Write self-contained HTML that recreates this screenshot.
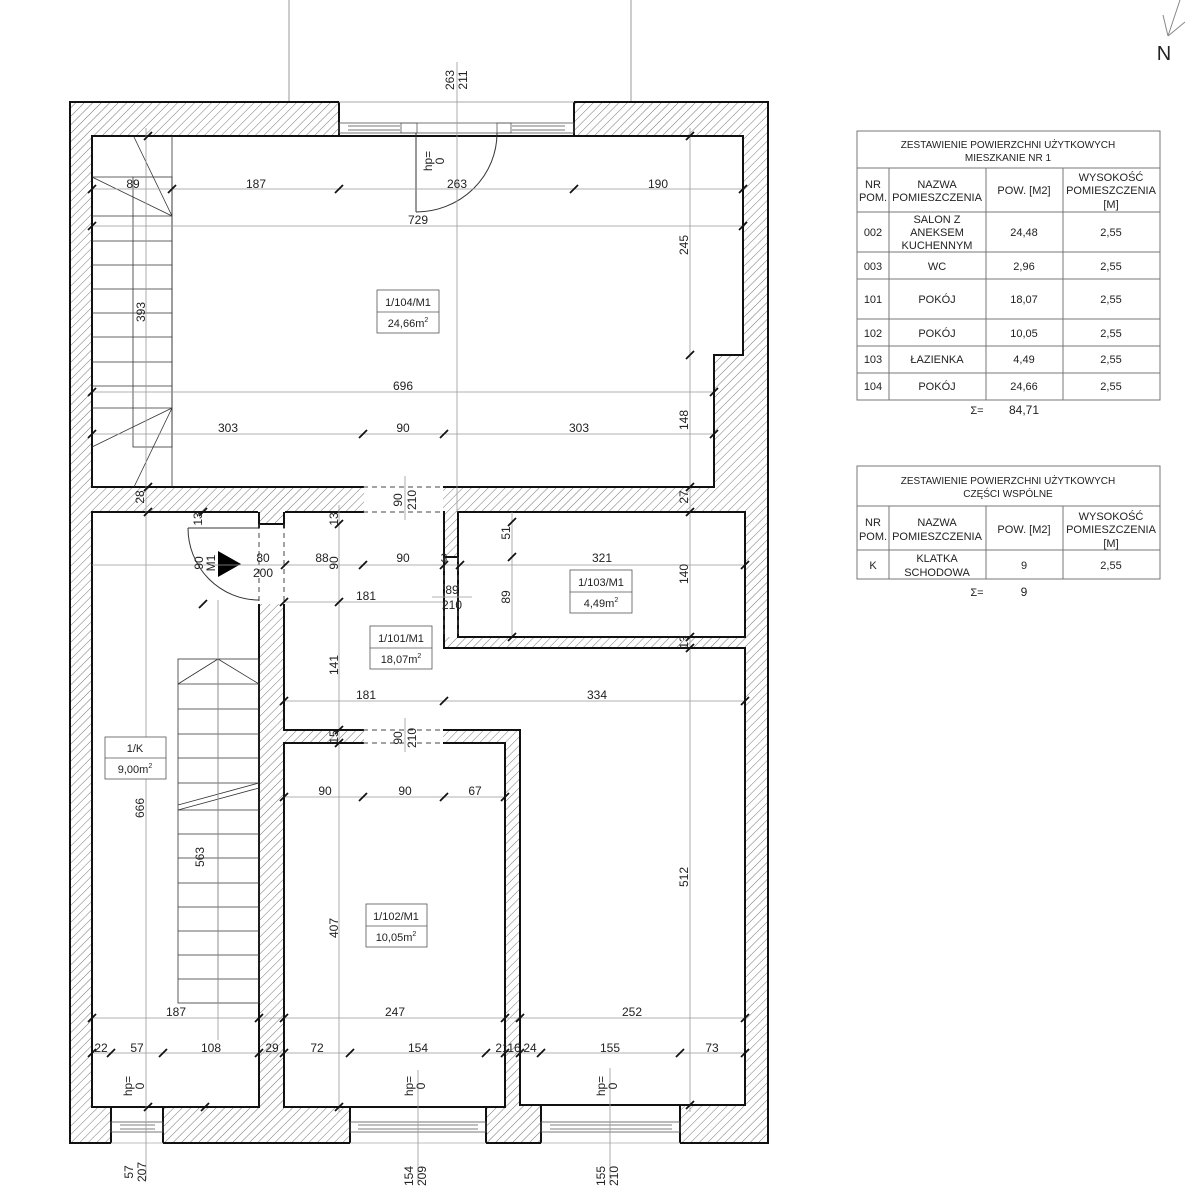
<!DOCTYPE html>
<html><head><meta charset="utf-8"><style>
html,body{margin:0;padding:0;background:#fff;}
svg{display:block;}
text{font-family:"Liberation Sans",sans-serif;fill:#222;}
</style></head><body>
<svg width="1192" height="1200" viewBox="0 0 1192 1200" xmlns="http://www.w3.org/2000/svg">
<defs>
<pattern id="h" width="6" height="6" patternUnits="userSpaceOnUse" patternTransform="rotate(45)">
<rect width="6" height="6" fill="#fff"/><line x1="0" y1="0" x2="0" y2="6" stroke="#666" stroke-width="0.9"/>
</pattern>
<path id="t" d="M-4,4 L4,-4" stroke="#111" stroke-width="1.8"/>
</defs>
<line x1="289" y1="0" x2="289" y2="102" stroke="#999" stroke-width="1"/>
<line x1="631" y1="0" x2="631" y2="102" stroke="#999" stroke-width="1"/>
<rect x="70" y="102" width="698" height="1041" fill="url(#h)" stroke="#111" stroke-width="2"/>
<rect x="339" y="101" width="235" height="36" fill="#fff"/>
<line x1="339" y1="102" x2="339" y2="136" stroke="#111" stroke-width="2"/>
<line x1="574" y1="102" x2="574" y2="136" stroke="#111" stroke-width="2"/>
<line x1="339" y1="102" x2="574" y2="102" stroke="#aaa"/>
<rect x="339" y="123" width="235" height="10" fill="none" stroke="#555" stroke-width="0.8"/>
<line x1="348" y1="126" x2="400" y2="126" stroke="#777"/><line x1="348" y1="130" x2="400" y2="130" stroke="#777"/>
<line x1="512" y1="126" x2="565" y2="126" stroke="#777"/><line x1="512" y1="130" x2="565" y2="130" stroke="#777"/>
<rect x="401" y="123" width="16" height="10" fill="none" stroke="#555" stroke-width="0.8"/>
<rect x="497" y="123" width="14" height="10" fill="none" stroke="#555" stroke-width="0.8"/>
<g fill="#fff">
<rect x="111" y="1106" width="52" height="38"/>
<rect x="350" y="1106" width="136" height="38"/>
<rect x="541" y="1104" width="139" height="40"/>
</g>
<g stroke="#111" stroke-width="2">
<line x1="111" y1="1107" x2="111" y2="1143"/><line x1="163" y1="1107" x2="163" y2="1143"/>
<line x1="350" y1="1107" x2="350" y2="1143"/><line x1="486" y1="1107" x2="486" y2="1143"/>
<line x1="541" y1="1105" x2="541" y2="1143"/><line x1="680" y1="1105" x2="680" y2="1143"/>
</g>
<g fill="none" stroke="#555" stroke-width="0.8">
<line x1="111" y1="1143" x2="163" y2="1143" stroke="#aaa"/>
<line x1="350" y1="1143" x2="486" y2="1143" stroke="#aaa"/>
<line x1="541" y1="1143" x2="680" y2="1143" stroke="#aaa"/>
<rect x="111" y="1122" width="52" height="10"/><line x1="120" y1="1125" x2="155" y2="1125"/><line x1="120" y1="1129" x2="155" y2="1129"/>
<rect x="350" y="1122" width="136" height="10"/><line x1="358" y1="1125" x2="478" y2="1125"/><line x1="358" y1="1129" x2="478" y2="1129"/>
<rect x="541" y="1122" width="139" height="10"/><line x1="550" y1="1125" x2="672" y2="1125"/><line x1="550" y1="1129" x2="672" y2="1129"/>
</g>
<g fill="#fff" stroke="#111" stroke-width="2">
<polygon points="92,136 743,136 743,355 714,355 714,487 92,487"/>
<polygon points="92,512 259,512 259,1107 92,1107"/>
<polygon points="284,512 444,512 444,648 745,648 745,1105 520,1105 520,730 284,730"/>
<polygon points="458,512 745,512 745,637 458,637"/>
<polygon points="284,743 505,743 505,1107 284,1107"/>
</g>
<rect x="258" y="511" width="27" height="13" fill="url(#h)"/>
<polyline points="259,512 259,524 284,524 284,512" fill="none" stroke="#111" stroke-width="2"/>
<g fill="#fff">
<rect x="364" y="486" width="79" height="27"/>
<rect x="258" y="525" width="27" height="79"/>
<rect x="445" y="557" width="12" height="80"/>
<rect x="364" y="729" width="79" height="15"/>
</g>
<g stroke="#111" stroke-width="2">
<line x1="259" y1="524" x2="259" y2="528"/><line x1="284" y1="524" x2="284" y2="528"/>
<line x1="444" y1="557" x2="458" y2="557"/>
</g>
<g stroke="#444" stroke-width="1" stroke-dasharray="5,4">
<line x1="363" y1="487" x2="444" y2="487"/><line x1="363" y1="512" x2="444" y2="512"/>
<line x1="444" y1="557" x2="444" y2="637"/><line x1="458" y1="557" x2="458" y2="637"/>
<line x1="363" y1="730" x2="444" y2="730"/><line x1="363" y1="743" x2="444" y2="743"/>
<line x1="259" y1="524" x2="259" y2="604"/><line x1="284" y1="524" x2="284" y2="604"/>
</g>
<g fill="none" stroke="#333" stroke-width="1">
<line x1="416" y1="133" x2="416" y2="212"/>
<path d="M416,212 A81,79 0 0 0 497,133"/>
<line x1="188" y1="528" x2="259" y2="528"/>
<path d="M188,528 A71,72 0 0 0 259,600"/>
</g>
<polygon points="218,551 241,564 218,577" fill="#000"/>
<g fill="none" stroke="#333" stroke-width="0.8">
<line x1="172" y1="136" x2="172" y2="487"/>
<rect x="133" y="177" width="39" height="270"/>
<line x1="92" y1="177" x2="133" y2="177"/>
<line x1="92" y1="216" x2="172" y2="216"/><line x1="92" y1="241" x2="172" y2="241"/>
<line x1="92" y1="265" x2="172" y2="265"/><line x1="92" y1="289" x2="172" y2="289"/>
<line x1="92" y1="313" x2="172" y2="313"/><line x1="92" y1="337" x2="172" y2="337"/>
<line x1="92" y1="362" x2="172" y2="362"/><line x1="92" y1="386" x2="172" y2="386"/>
<line x1="92" y1="408" x2="172" y2="408"/>
<line x1="134" y1="137" x2="172" y2="216"/><line x1="92" y1="177" x2="172" y2="216"/>
<line x1="92" y1="447" x2="172" y2="408"/><line x1="134" y1="487" x2="172" y2="408"/>
</g>
<g fill="none" stroke="#333" stroke-width="0.8">
<rect x="178" y="659" width="81" height="344"/>
<line x1="218" y1="659" x2="218" y2="1003"/>
<line x1="178" y1="684" x2="259" y2="684"/><line x1="178" y1="709" x2="259" y2="709"/>
<line x1="178" y1="734" x2="259" y2="734"/><line x1="178" y1="758" x2="259" y2="758"/>
<line x1="178" y1="783" x2="259" y2="783"/><line x1="178" y1="810" x2="259" y2="810"/>
<line x1="178" y1="834" x2="259" y2="834"/><line x1="178" y1="858" x2="259" y2="858"/>
<line x1="178" y1="883" x2="259" y2="883"/><line x1="178" y1="907" x2="259" y2="907"/>
<line x1="178" y1="931" x2="259" y2="931"/><line x1="178" y1="955" x2="259" y2="955"/>
<line x1="178" y1="979" x2="259" y2="979"/>
<polyline points="178,684 218,659 259,684"/>
<line x1="178" y1="805" x2="259" y2="783"/><line x1="178" y1="810" x2="259" y2="788"/>
</g>
<g stroke="#999" stroke-width="0.8" fill="none">
<line x1="92" y1="189" x2="745" y2="189"/>
<line x1="92" y1="226" x2="745" y2="226"/>
<line x1="92" y1="392" x2="714" y2="392"/>
<line x1="92" y1="434" x2="714" y2="434"/>
<line x1="690" y1="128" x2="690" y2="1112"/>
<line x1="146" y1="128" x2="146" y2="1180"/>
<line x1="457" y1="62" x2="457" y2="512"/>
<line x1="405" y1="476" x2="405" y2="520"/>
<line x1="92" y1="565" x2="745" y2="565"/>
<line x1="284" y1="602" x2="444" y2="602"/>
<line x1="432" y1="597" x2="472" y2="597"/>
<line x1="339" y1="505" x2="339" y2="1112"/>
<line x1="512" y1="512" x2="512" y2="637"/>
<line x1="284" y1="701" x2="745" y2="701"/>
<line x1="405" y1="718" x2="405" y2="752"/>
<line x1="284" y1="797" x2="505" y2="797"/>
<line x1="92" y1="1018" x2="745" y2="1018"/>
<line x1="92" y1="1053" x2="745" y2="1053"/>
<line x1="418" y1="1070" x2="418" y2="1183"/>
<line x1="610" y1="1068" x2="610" y2="1183"/>
<line x1="218" y1="600" x2="218" y2="1040"/>
</g>
<g>
<use href="#t" x="92" y="189"/><use href="#t" x="172" y="189"/><use href="#t" x="339" y="189"/><use href="#t" x="574" y="189"/><use href="#t" x="743" y="189"/>
<use href="#t" x="92" y="226"/><use href="#t" x="743" y="226"/>
<use href="#t" x="92" y="392"/><use href="#t" x="714" y="392"/>
<use href="#t" x="92" y="434"/><use href="#t" x="363" y="434"/><use href="#t" x="444" y="434"/><use href="#t" x="714" y="434"/>
<use href="#t" x="148" y="136"/><use href="#t" x="690" y="136"/><use href="#t" x="690" y="355"/><use href="#t" x="690" y="487"/><use href="#t" x="148" y="487"/>
<use href="#t" x="148" y="512"/><use href="#t" x="690" y="512"/><use href="#t" x="203" y="512"/><use href="#t" x="339" y="524"/><use href="#t" x="203" y="604"/>
<use href="#t" x="285" y="565"/><use href="#t" x="363" y="565"/><use href="#t" x="444" y="565"/><use href="#t" x="460" y="565"/><use href="#t" x="745" y="565"/>
<use href="#t" x="284" y="602"/><use href="#t" x="339" y="602"/>
<use href="#t" x="512" y="522"/><use href="#t" x="512" y="557"/><use href="#t" x="512" y="637"/><use href="#t" x="690" y="637"/><use href="#t" x="690" y="648"/>
<use href="#t" x="284" y="701"/><use href="#t" x="444" y="701"/><use href="#t" x="745" y="701"/>
<use href="#t" x="339" y="730"/><use href="#t" x="339" y="743"/>
<use href="#t" x="284" y="797"/><use href="#t" x="363" y="797"/><use href="#t" x="444" y="797"/><use href="#t" x="505" y="797"/>
<use href="#t" x="92" y="1018"/><use href="#t" x="259" y="1018"/><use href="#t" x="284" y="1018"/><use href="#t" x="505" y="1018"/><use href="#t" x="520" y="1018"/><use href="#t" x="745" y="1018"/>
<use href="#t" x="92" y="1053"/><use href="#t" x="111" y="1053"/><use href="#t" x="163" y="1053"/><use href="#t" x="259" y="1053"/><use href="#t" x="284" y="1053"/><use href="#t" x="350" y="1053"/><use href="#t" x="486" y="1053"/><use href="#t" x="505" y="1053"/><use href="#t" x="520" y="1053"/><use href="#t" x="541" y="1053"/><use href="#t" x="680" y="1053"/><use href="#t" x="745" y="1053"/>
<use href="#t" x="148" y="1107"/><use href="#t" x="205" y="1107"/><use href="#t" x="339" y="1107"/><use href="#t" x="690" y="1105"/>
</g>
<g font-size="12" text-anchor="middle">
<text x="133" y="188">89</text><text x="256" y="188">187</text><text x="457" y="188">263</text><text x="658" y="188">190</text>
<text x="418" y="224">729</text>
<text x="403" y="390">696</text>
<text x="228" y="432">303</text><text x="403" y="432">90</text><text x="579" y="432">303</text>
<text x="263" y="562">80</text><text x="263" y="577">200</text>
<text x="322" y="562">88</text><text x="403" y="562">90</text><text x="444" y="562">3</text><text x="602" y="562">321</text>
<text x="366" y="600">181</text>
<text x="452" y="594">89</text><text x="452" y="609">210</text>
<text x="366" y="699">181</text><text x="597" y="699">334</text>
<text x="325" y="795">90</text><text x="405" y="795">90</text><text x="475" y="795">67</text>
<text x="176" y="1016">187</text><text x="395" y="1016">247</text><text x="632" y="1016">252</text>
<text x="101" y="1052">22</text><text x="137" y="1052">57</text><text x="211" y="1052">108</text><text x="272" y="1052">29</text><text x="317" y="1052">72</text><text x="418" y="1052">154</text><text x="502" y="1052">21</text><text x="514" y="1052">16</text><text x="530" y="1052">24</text><text x="610" y="1052">155</text><text x="712" y="1052">73</text>
<text x="1024" y="414">84,71</text>
<text x="1024" y="596">9</text>
</g>
<g font-size="12" text-anchor="middle">
<text transform="translate(145,312) rotate(-90)">393</text>
<text transform="translate(688,245) rotate(-90)">245</text>
<text transform="translate(688,420) rotate(-90)">148</text>
<text transform="translate(144,497) rotate(-90)">28</text>
<text transform="translate(688,497) rotate(-90)">27</text>
<text transform="translate(202,519) rotate(-90)">13</text>
<text transform="translate(338,519) rotate(-90)">13</text>
<text transform="translate(688,642) rotate(-90)">13</text>
<text transform="translate(402,500) rotate(-90)">90</text>
<text transform="translate(416,500) rotate(-90)">210</text>
<text transform="translate(402,738) rotate(-90)">90</text>
<text transform="translate(416,738) rotate(-90)">210</text>
<text transform="translate(338,737) rotate(-90)">15</text>
<text transform="translate(203,563) rotate(-90)">90</text>
<text transform="translate(215,563) rotate(-90)">M1</text>
<text transform="translate(338,563) rotate(-90)">90</text>
<text transform="translate(510,533) rotate(-90)">51</text>
<text transform="translate(510,597) rotate(-90)">89</text>
<text transform="translate(688,574) rotate(-90)">140</text>
<text transform="translate(338,665) rotate(-90)">141</text>
<text transform="translate(144,808) rotate(-90)">666</text>
<text transform="translate(204,857) rotate(-90)">563</text>
<text transform="translate(338,928) rotate(-90)">407</text>
<text transform="translate(688,877) rotate(-90)">512</text>
<text transform="translate(454,80) rotate(-90)">263</text>
<text transform="translate(467,80) rotate(-90)">211</text>
<text transform="translate(432,161) rotate(-90)">hp=</text>
<text transform="translate(444,161) rotate(-90)">0</text>
<text transform="translate(132,1086) rotate(-90)">hp=</text>
<text transform="translate(144,1086) rotate(-90)">0</text>
<text transform="translate(413,1086) rotate(-90)">hp=</text>
<text transform="translate(425,1086) rotate(-90)">0</text>
<text transform="translate(605,1086) rotate(-90)">hp=</text>
<text transform="translate(617,1086) rotate(-90)">0</text>
<text transform="translate(133,1172) rotate(-90)">57</text>
<text transform="translate(146,1172) rotate(-90)">207</text>
<text transform="translate(413,1176) rotate(-90)">154</text>
<text transform="translate(426,1176) rotate(-90)">209</text>
<text transform="translate(605,1176) rotate(-90)">155</text>
<text transform="translate(618,1176) rotate(-90)">210</text>
</g>
<g fill="#fff" stroke="#555" stroke-width="0.8">
<rect x="377" y="290" width="62" height="43"/><line x1="377" y1="312" x2="439" y2="312"/>
<rect x="370" y="626" width="62" height="43"/><line x1="370" y1="648" x2="432" y2="648"/>
<rect x="570" y="570" width="62" height="43"/><line x1="570" y1="592" x2="632" y2="592"/>
<rect x="366" y="904" width="61" height="43"/><line x1="366" y1="926" x2="427" y2="926"/>
<rect x="105" y="737" width="61" height="42"/><line x1="105" y1="758" x2="166" y2="758"/>
</g>
<g font-size="11" text-anchor="middle">
<text x="408" y="306">1/104/M1</text><text x="408" y="327">24,66m<tspan font-size="7" dy="-5">2</tspan></text>
<text x="401" y="642">1/101/M1</text><text x="401" y="663">18,07m<tspan font-size="7" dy="-5">2</tspan></text>
<text x="601" y="586">1/103/M1</text><text x="601" y="607">4,49m<tspan font-size="7" dy="-5">2</tspan></text>
<text x="396" y="920">1/102/M1</text><text x="396" y="941">10,05m<tspan font-size="7" dy="-5">2</tspan></text>
<text x="135" y="752">1/K</text><text x="135" y="773">9,00m<tspan font-size="7" dy="-5">2</tspan></text>
</g>
<g stroke="#888" stroke-width="1">
<line x1="1168" y1="36" x2="1180" y2="0"/><line x1="1168" y1="36" x2="1163" y2="15"/><line x1="1168" y1="36" x2="1185" y2="22"/>
</g>
<text x="1164" y="60" font-size="20" text-anchor="middle">N</text>
<g fill="none" stroke="#777" stroke-width="1">
<rect x="857" y="131" width="303" height="269"/>
<line x1="857" y1="168" x2="1160" y2="168"/><line x1="857" y1="212" x2="1160" y2="212"/>
<line x1="857" y1="252" x2="1160" y2="252"/><line x1="857" y1="279" x2="1160" y2="279"/>
<line x1="857" y1="319" x2="1160" y2="319"/><line x1="857" y1="346" x2="1160" y2="346"/>
<line x1="857" y1="373" x2="1160" y2="373"/>
<line x1="889" y1="168" x2="889" y2="400"/><line x1="986" y1="168" x2="986" y2="400"/><line x1="1063" y1="168" x2="1063" y2="400"/>
<rect x="857" y="466" width="303" height="113"/>
<line x1="857" y1="506" x2="1160" y2="506"/><line x1="857" y1="550" x2="1160" y2="550"/>
<line x1="889" y1="506" x2="889" y2="579"/><line x1="986" y1="506" x2="986" y2="579"/><line x1="1063" y1="506" x2="1063" y2="579"/>
</g>
<g font-size="10" text-anchor="middle">
<text x="1008" y="148">ZESTAWIENIE POWIERZCHNI UŻYTKOWYCH</text>
<text x="1008" y="161">MIESZKANIE NR 1</text>
<text x="873" y="188" font-size="11">NR</text><text x="873" y="201" font-size="11">POM.</text>
<text x="937" y="188" font-size="11">NAZWA</text><text x="937" y="201" font-size="11">POMIESZCZENIA</text>
<text x="1024" y="194" font-size="11">POW. [M2]</text>
<text x="1111" y="181" font-size="11">WYSOKOŚĆ</text><text x="1111" y="194" font-size="11">POMIESZCZENIA</text><text x="1111" y="208" font-size="11">[M]</text>
<g font-size="11">
<text x="873" y="236">002</text><text x="937" y="223">SALON Z</text><text x="937" y="236">ANEKSEM</text><text x="937" y="249">KUCHENNYM</text><text x="1024" y="236">24,48</text><text x="1111" y="236">2,55</text>
<text x="873" y="270">003</text><text x="937" y="270">WC</text><text x="1024" y="270">2,96</text><text x="1111" y="270">2,55</text>
<text x="873" y="303">101</text><text x="937" y="303">POKÓJ</text><text x="1024" y="303">18,07</text><text x="1111" y="303">2,55</text>
<text x="873" y="337">102</text><text x="937" y="337">POKÓJ</text><text x="1024" y="337">10,05</text><text x="1111" y="337">2,55</text>
<text x="873" y="363">103</text><text x="937" y="363">ŁAZIENKA</text><text x="1024" y="363">4,49</text><text x="1111" y="363">2,55</text>
<text x="873" y="390">104</text><text x="937" y="390">POKÓJ</text><text x="1024" y="390">24,66</text><text x="1111" y="390">2,55</text>
<text x="977" y="414">Σ=</text>
</g>
<text x="1008" y="484">ZESTAWIENIE POWIERZCHNI UŻYTKOWYCH</text>
<text x="1008" y="497">CZĘŚCI WSPÓLNE</text>
<g font-size="11">
<text x="873" y="526">NR</text><text x="873" y="540">POM.</text>
<text x="937" y="526">NAZWA</text><text x="937" y="540">POMIESZCZENIA</text>
<text x="1024" y="533">POW. [M2]</text>
<text x="1111" y="520">WYSOKOŚĆ</text><text x="1111" y="533">POMIESZCZENIA</text><text x="1111" y="547">[M]</text>
<text x="873" y="569">K</text><text x="937" y="562">KLATKA</text><text x="937" y="576">SCHODOWA</text><text x="1024" y="569">9</text><text x="1111" y="569">2,55</text>
<text x="977" y="596">Σ=</text>
</g>
</g>
</svg>
</body></html>
